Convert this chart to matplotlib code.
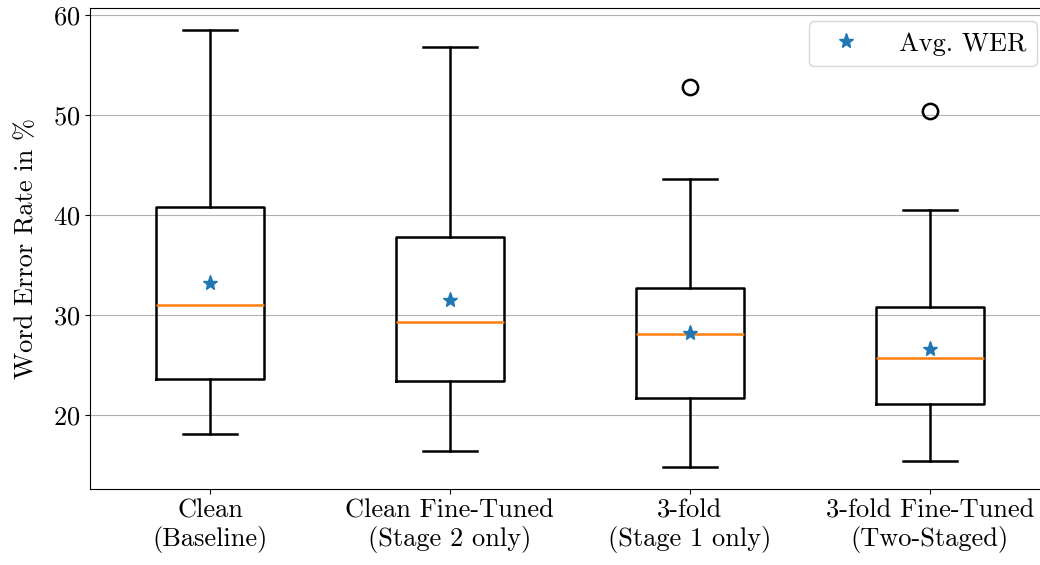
import matplotlib
matplotlib.use("Agg")
import matplotlib.pyplot as plt

plt.rcParams['font.family'] = 'serif'
plt.rcParams['font.serif'] = ['cmr10']
plt.rcParams['mathtext.fontset'] = 'cm'
plt.rcParams['axes.formatter.use_mathtext'] = True
plt.rcParams['font.size'] = 19

etiquetas = ["Clean\n(Baseline)", "Clean Fine-Tuned\n(Stage 2 only)",
             "3-fold\n(Stage 1 only)", "3-fold Fine-Tuned\n(Two-Staged)"]
bigote_inf = [18.1, 16.4, 14.8, 15.4]
q1 = [23.6, 23.4, 21.7, 21.1]
mediana = [31.0, 29.3, 28.1, 25.7]
q3 = [40.8, 37.8, 32.7, 30.8]
bigote_sup = [58.5, 56.8, 43.6, 40.5]
media = [33.2, 31.5, 28.2, 26.6]
atipicos = [[], [], [52.8], [50.4]]

stats = []
for i in range(len(etiquetas)):
    stats.append({"whislo": bigote_inf[i], "q1": q1[i], "med": mediana[i],
                  "q3": q3[i], "whishi": bigote_sup[i], "mean": media[i],
                  "fliers": atipicos[i], "label": etiquetas[i]})

fig = plt.figure(figsize=(10.4, 5.65), dpi=100)
ax = fig.add_axes([0.0865, 0.1345, 0.923, 0.851])

linea = dict(color="black", linewidth=1.8)
ax.bxp(stats, widths=0.45, showmeans=True, showfliers=True,
       boxprops=linea, whiskerprops=linea, capprops=linea,
       medianprops=dict(color="C1", linewidth=1.8),
       meanprops=dict(marker="*", markerfacecolor="C0", markeredgecolor="C0",
                      markersize=11),
       flierprops=dict(marker="o", markerfacecolor="none", markeredgecolor="black",
                       markersize=11, markeredgewidth=1.8))

ax.set_xlim(0.5, 4.5)
ax.set_ylim(12.6, 60.7)
ax.set_yticks([20, 30, 40, 50, 60])
ax.yaxis.grid(True, color="#b0b0b0", linewidth=0.8)
ax.set_axisbelow(True)
ax.set_ylabel("Word Error Rate in %", labelpad=11)

# Leyenda solo con la estrella
ax.plot([], [], linestyle="none", marker="*", color="C0", markersize=11, label="Avg. WER")
ax.legend(loc="upper right", numpoints=1, handletextpad=1.0, borderaxespad=0.5)

fig.savefig("out.png", dpi=100)
